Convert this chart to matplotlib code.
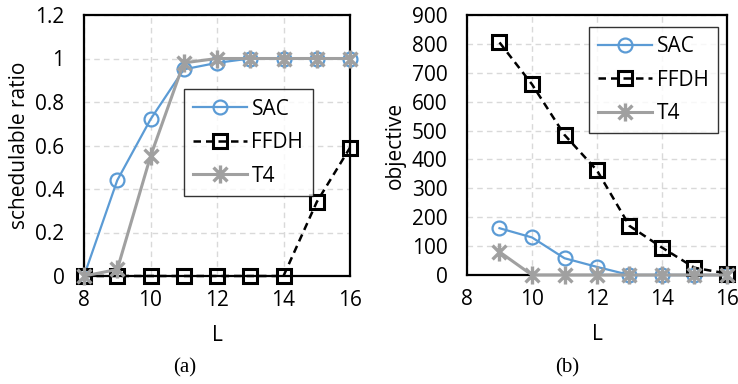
import matplotlib.pyplot as plt
from matplotlib.path import Path

L_a = [8, 9, 10, 11, 12, 13, 14, 15, 16]
sac_ratio = [0, 0.44, 0.72, 0.95, 0.98, 1, 1, 1, 1]
ffdh_ratio = [0, 0, 0, 0, 0, 0, 0, 0.34, 0.59]
t4_ratio = [0, 0.03, 0.55, 0.98, 1, 1, 1, 1, 1]

L_b = [9, 10, 11, 12, 13, 14, 15, 16]
sac_obj = [162, 130, 58, 28, 0, 0, 0, 0]
ffdh_obj = [805, 660, 485, 362, 170, 95, 25, 5]
t4_obj = [80, 0, 0, 0, 0, 0, 0, 0]

plt.rcParams['font.family'] = ['Open Sans', 'DejaVu Sans']

# excel style star: an x plus a vertical bar
star = Path([(-1, -1), (1, 1), (-1, 1), (1, -1), (0, -1.3), (0, 1.3)],
            [Path.MOVETO, Path.LINETO, Path.MOVETO, Path.LINETO, Path.MOVETO, Path.LINETO])

blue = '#5b9bd5'
grey = '#a0a0a0'

fig = plt.figure(figsize=(7.38, 3.84), dpi=100)
ax1 = fig.add_axes([84 / 738, 1 - 276 / 384, 266 / 738, 261 / 384])
ax2 = fig.add_axes([467 / 738, 1 - 275 / 384, 260 / 738, 260 / 384])


def draw(ax, x, sac, ffdh, t4):
    ax.plot(x, sac, color=blue, lw=1.6, marker='o', ms=10, mfc='none', mec=blue, mew=1.6, label='SAC', zorder=3)
    ax.plot(x, ffdh, color='black', lw=1.8, ls=(0, (3, 2)), marker='s', ms=10, mfc='none', mec='black', mew=2.2,
            label='FFDH', zorder=3)
    ax.plot(x, t4, color=grey, lw=2.2, marker=star, ms=13, mec=grey, mew=2.4, label='T4', zorder=4)
    ax.set_xlim(8, 16)
    ax.set_xticks([8, 10, 12, 14, 16])
    ax.grid(True, color='#d9d9d9', ls=(0, (4, 3)), lw=1)
    ax.set_axisbelow(True)
    for s in ax.spines.values():
        s.set_linewidth(1.6)
    ax.tick_params(length=0, labelsize=15)
    ax.tick_params(axis='x', pad=10)
    ax.tick_params(axis='y', pad=14)
    ax.set_xlabel('L', fontsize=15, labelpad=10)
    for ln in ax.lines:
        ln.set_clip_on(False)


draw(ax1, L_a, sac_ratio, ffdh_ratio, t4_ratio)
ax1.set_ylim(0, 1.2)
ax1.set_yticks([0, 0.2, 0.4, 0.6, 0.8, 1, 1.2])
ax1.set_yticklabels(['0', '0.2', '0.4', '0.6', '0.8', '1', '1.2'])
ax1.set_ylabel('schedulable ratio', fontsize=15, labelpad=4)
leg1 = ax1.legend(loc='upper left', bbox_to_anchor=(0.375, 0.715), fontsize=15, frameon=True, fancybox=False,
                  edgecolor='black', handlelength=2.6, borderpad=0.45, labelspacing=0.6, handletextpad=0.2,
                  borderaxespad=0)
leg1.get_frame().set_linewidth(1)

draw(ax2, L_b, sac_obj, ffdh_obj, t4_obj)
ax2.set_ylim(0, 900)
ax2.set_yticks(range(0, 901, 100))
ax2.set_ylabel('objective', fontsize=15, labelpad=4)
leg2 = ax2.legend(loc='upper right', bbox_to_anchor=(0.965, 0.955), fontsize=15, frameon=True, fancybox=False,
                  edgecolor='black', handlelength=2.6, borderpad=0.45, labelspacing=0.6, handletextpad=0.2,
                  borderaxespad=0)
leg2.get_frame().set_linewidth(1)

fig.text(185 / 738, 1 - 368 / 384, '(a)', family='Liberation Serif', fontsize=15, ha='center', va='center')
fig.text(567 / 738, 1 - 368 / 384, '(b)', family='Liberation Serif', fontsize=15, ha='center', va='center')

fig.savefig('out.png', dpi=100)
